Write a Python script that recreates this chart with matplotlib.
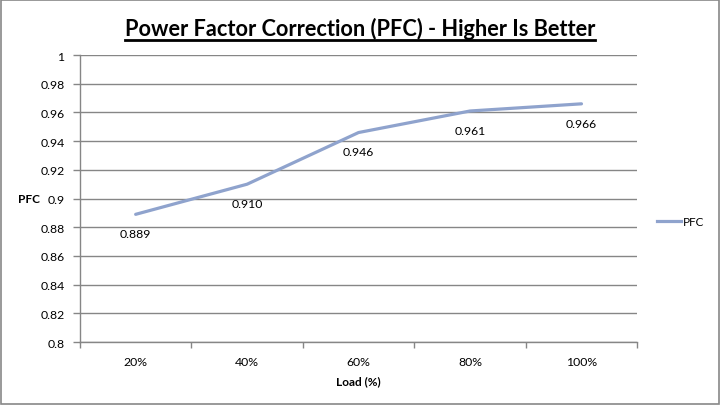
import matplotlib
matplotlib.use('Agg')
import matplotlib.pyplot as plt
from matplotlib.patches import Rectangle
from matplotlib.lines import Line2D

loads = ['20%', '40%', '60%', '80%', '100%']
pfc = [0.889, 0.910, 0.946, 0.961, 0.966]
yticks = [0.8, 0.82, 0.84, 0.86, 0.88, 0.9, 0.92, 0.94, 0.96, 0.98, 1]
ytick_labels = ['0.8', '0.82', '0.84', '0.86', '0.88', '0.9', '0.92', '0.94', '0.96', '0.98', '1']

plt.rcParams['font.family'] = ['Lato', 'DejaVu Sans']
line_col = '#8FA3CD'
grid_col = '#868686'

fig = plt.figure(figsize=(7.2, 4.06), dpi=100)
ax = fig.add_axes([0.111, 0.155, 0.774, 0.707])

x = list(range(len(loads)))
ax.plot(x, pfc, color=line_col, lw=2.3, label='PFC', solid_capstyle='round')
for xi, v in zip(x, pfc):
    ax.annotate('%.3f' % v, (xi, v), xytext=(0, -14), textcoords='offset points',
                ha='center', va='center', fontsize=8.8, color='black')

ax.set_xlim(-0.5, len(loads) - 0.5)
ax.set_ylim(0.8, 1.0)
ax.set_yticks(yticks)
ax.set_yticklabels(ytick_labels, fontsize=8.8)
ax.set_xticks(x)
ax.set_xticklabels(loads, fontsize=8.8)
ax.set_xticks([i - 0.5 for i in range(len(loads) + 1)], minor=True)
ax.tick_params(axis='x', which='major', length=0, pad=10)
ax.tick_params(axis='x', which='minor', length=4, color=grid_col, width=1)
ax.tick_params(axis='y', length=5, color=grid_col, width=1, pad=6)
ax.grid(axis='y', color=grid_col, lw=1)
ax.set_axisbelow(True)
for s in ['top', 'right']:
    ax.spines[s].set_visible(False)
for s in ['left', 'bottom']:
    ax.spines[s].set_color(grid_col)
    ax.spines[s].set_linewidth(1)

ax.set_xlabel('Load (%)', fontsize=8.5, fontweight='bold', labelpad=6)
ax.set_ylabel('PFC', fontsize=8.5, fontweight='bold', rotation=0, labelpad=8, va='center')

leg = fig.legend(handles=[Line2D([], [], color=line_col, lw=2.3)], labels=['PFC'],
                 loc='center left', bbox_to_anchor=(0.898, 0.452), frameon=False,
                 fontsize=8.5, handlelength=2.0, handletextpad=0.2)

title = fig.text(0.5, 0.928, 'Power Factor Correction (PFC) - Higher Is Better',
                 ha='center', va='center', fontsize=15.7, fontweight='bold')
fig.canvas.draw()
bb = title.get_window_extent().transformed(fig.transFigure.inverted())
fig.add_artist(Line2D([bb.x0, bb.x1], [bb.y0 - 0.003, bb.y0 - 0.003], color='black', lw=2,
                      transform=fig.transFigure))

fig.add_artist(Rectangle((0.001, 0.002), 0.997, 0.996, transform=fig.transFigure,
                         fill=False, edgecolor='#888888', lw=1.2))

fig.savefig('out.png', dpi=100)
